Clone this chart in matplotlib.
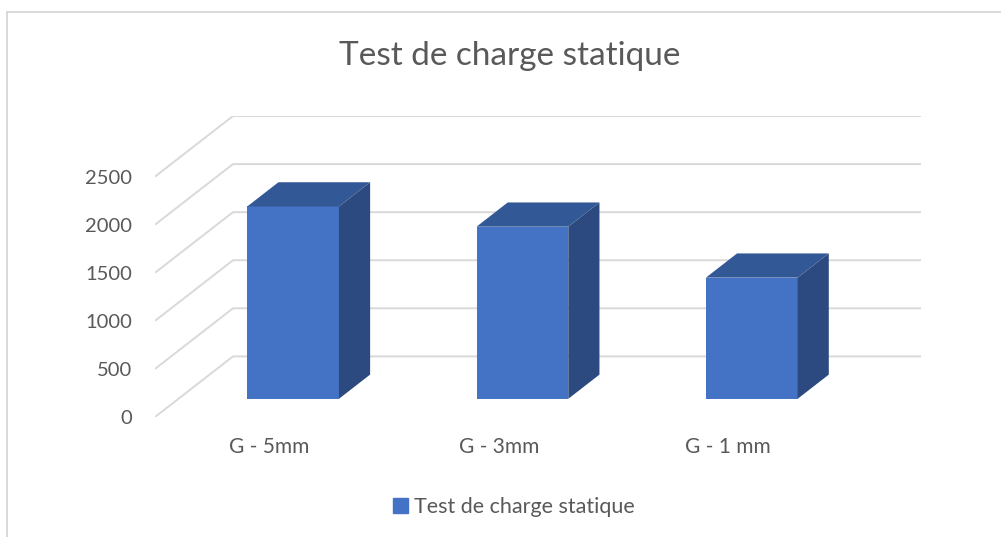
import matplotlib.pyplot as plt
from matplotlib.patches import Patch
from matplotlib.lines import Line2D

# Données
categories = ['G - 5mm', 'G - 3mm', 'G - 1 mm']
valeurs = [2000, 1790, 1260]
graduations = [0, 500, 1000, 1500, 2000, 2500]
titre = 'Test de charge statique'
serie = 'Test de charge statique'

# Couleurs
bleu = '#4472C4'
bleu_haut = '#335896'
bleu_cote = '#2C4A7F'
gris_texte = '#595959'
gris_grille = '#D9D9D9'

plt.rcParams['font.family'] = ['Lato', 'DejaVu Sans']

W, H = 1001, 537
fig = plt.figure(figsize=(W / 100, H / 100), dpi=100)

# Décalage de profondeur (effet 3D oblique) en unités des axes
DX = 0.34
DY = 630

ax = fig.add_axes([155 / W, 1 - 417 / H, (921 - 155) / W, (417 - 116) / H])
ax.set_xlim(0, len(categories) + DX)
ax.set_ylim(0, max(graduations) + DY)

# Grille : diagonale sur le côté puis ligne sur le mur du fond
for g in graduations:
    ax.plot([0, DX, len(categories) + DX], [g, g + DY, g + DY],
            color=gris_grille, lw=1.4, zorder=1, solid_capstyle='butt')

# Barres 3D
w = 0.2
d0, d1 = 0.3, 0.7
for i, v in enumerate(valeurs):
    c = i + 0.5
    x0 = c - w + d0 * DX
    x1 = c + w + d0 * DX
    y0 = d0 * DY
    ex = (d1 - d0) * DX
    ey = (d1 - d0) * DY
    # face avant
    ax.fill([x0, x1, x1, x0], [y0, y0, y0 + v, y0 + v], color=bleu, lw=0, zorder=3)
    # côté droit
    ax.fill([x1, x1 + ex, x1 + ex, x1], [y0, y0 + ey, y0 + v + ey, y0 + v],
            color=bleu_cote, lw=0, zorder=3)
    # dessus
    ax.fill([x0, x1, x1 + ex, x0 + ex], [y0 + v, y0 + v, y0 + v + ey, y0 + v + ey],
            color=bleu_haut, lw=0, zorder=3)

ax.set_yticks(graduations)
ax.set_yticklabels([str(g) for g in graduations])
ax.set_xticks([i + 0.5 for i in range(len(categories))])
ax.set_xticklabels(categories)
ax.tick_params(axis='y', length=0, pad=16.5, labelsize=14.5, labelcolor=gris_texte)
ax.tick_params(axis='x', length=0, pad=14.5, labelsize=15, labelcolor=gris_texte)
for s in ax.spines.values():
    s.set_visible(False)
ax.set_facecolor('none')

# Titre
fig.text(510 / W, 1 - 65 / H, titre, ha='center', va='baseline',
         fontsize=24, color=gris_texte)

# Légende
fig.legend(handles=[Patch(color=bleu, label=serie)], loc='center',
           bbox_to_anchor=(514 / W, 1 - 507 / H), frameon=False,
           handlelength=0.7, handleheight=0.7, handletextpad=0.3,
           fontsize=15.5, labelcolor=gris_texte)

# Cadre de la zone du graphique
fig.add_artist(Line2D([7 / W, 1], [1 - 12 / H, 1 - 12 / H], color=gris_grille, lw=1.4))
fig.add_artist(Line2D([7 / W, 7 / W], [0, 1 - 12 / H], color=gris_grille, lw=1.4))

fig.savefig('out.png', dpi=100)
